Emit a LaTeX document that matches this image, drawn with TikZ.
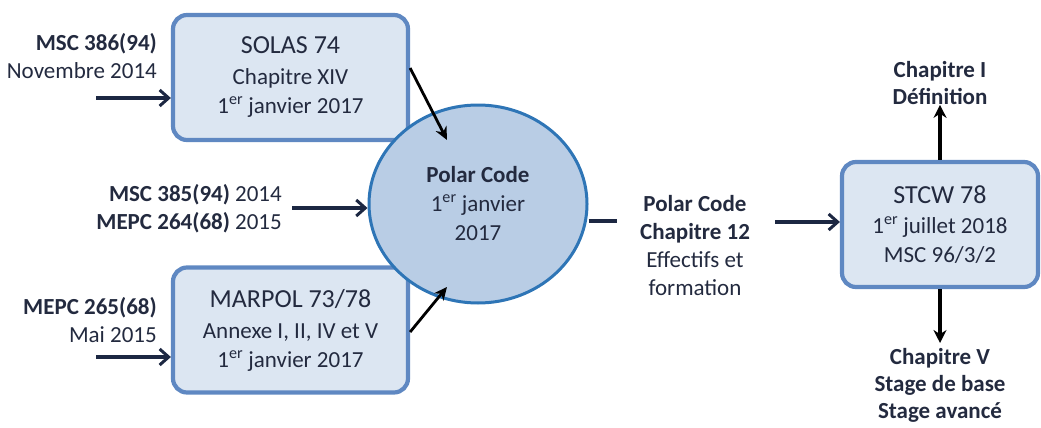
\documentclass[tikz,border=0pt]{standalone}
\usepackage{fontspec}
\setmainfont{Carlito}
\usetikzlibrary{arrows.meta,calc,shapes.geometric}
\definecolor{boxfill}{HTML}{DCE6F2}
\definecolor{boxline}{HTML}{5F88C2}
\definecolor{circfill}{HTML}{B9CDE5}
\definecolor{circline}{HTML}{2E75B6}
\definecolor{txt}{HTML}{232A3F}
\definecolor{arr}{HTML}{1C2742}
\tikzset{
  regbox/.style={draw=boxline, line width=4.2pt, fill=boxfill, rounded corners=14pt,
    align=center, text=txt, font=\fontsize{23}{29}\selectfont, inner sep=0pt},
  lbl/.style={text=txt, font=\fontsize{23}{28}\selectfont, inner sep=0pt},
  inarr/.style={draw=arr, line width=3.4pt, -{Straight Barb[length=9pt,width=16pt,line width=3pt]}},
  solidarr/.style={draw=black, line width=2.8pt, -{Stealth[length=13pt,width=12pt]}},
  vtarr/.style={draw=black, line width=3.2pt, -{Stealth[length=13pt,width=13pt]}},
}
\newcommand{\ttl}[1]{{\fontsize{26}{30}\selectfont #1}}
\begin{document}
\begin{tikzpicture}[x=1pt,y=-1pt]
\useasboundingbox (0,0) rectangle (1041,428);
% boxes
\node[regbox, minimum width=235pt, minimum height=125pt] (solas) at (290.5,77.5)
  {\ttl{SOLAS 74}\\[2pt] Chapitre XIV\\ 1\textsuperscript{er} janvier 2017};
\node[regbox, minimum width=235pt, minimum height=125pt] (marpol) at (290.5,330)
  {\ttl{MARPOL 73/78}\\[2pt] Annexe I, II, IV et V\\ 1\textsuperscript{er} janvier 2017};
\node[ellipse, draw=circline, line width=3pt, fill=circfill, minimum width=218pt,
  minimum height=198pt, inner sep=0pt, align=center, text=txt,
  font=\fontsize{23}{29}\selectfont] (circ) at (478,204)
  {\textbf{Polar Code}\\ 1\textsuperscript{er} janvier\\ 2017};
\node[regbox, minimum width=196pt, minimum height=125pt] (stcw) at (940,224.5)
  {\ttl{STCW 78}\\[1pt] 1\textsuperscript{er} juillet 2018\\ MSC 96/3/2};
% labels
\node[lbl, anchor=east, align=right] (l1) at (157,56)
  {\textbf{MSC 386(94)}\\ Novembre 2014};
\node[lbl, anchor=east, align=right] (l2) at (282,209)
  {\textbf{MSC 385(94)} 2014\\ \textbf{MEPC 264(68)} 2015};
\node[lbl, anchor=east, align=right] (l3) at (157,320)
  {\textbf{MEPC 265(68)}\\ Mai 2015};
\node[lbl, align=center] (pc) at (695,246)
  {\textbf{Polar Code}\\ \textbf{Chapitre 12}\\ Effectifs et\\ formation};
\node[lbl, align=center, font=\bfseries\fontsize{23}{27}\selectfont] (ch1) at (940,83)
  {Chapitre I\\ Définition};
\node[lbl, align=center, font=\bfseries\fontsize{23}{27}\selectfont, anchor=north] (ch5) at (940,348)
  {Chapitre V\\ Stage de base\\ Stage avancé};
% connectors
\coordinate (a1) at (96,98);
\coordinate (a2) at (292,208);
\coordinate (a3) at (96,357);
\coordinate (a4) at (775,222);
\coordinate (b1) at (617,221);
\draw[inarr] (a1) -- (a1 -| solas.west);
\draw[inarr] (a2) -- (a2 -| circ.west);
\draw[inarr] (a3) -- (a3 -| marpol.west);
\draw[inarr] (a4) -- (a4 -| stcw.west);
\draw[draw=arr, line width=3.4pt] (b1 -| circ.east) -- (b1);
\draw[solidarr] ([yshift=9.5pt]solas.east) -- ([shift={(-31pt,64pt)}]circ.center);
\draw[solidarr] ([yshift=-2pt]marpol.east) -- ([shift={(-31pt,-83pt)}]circ.center);
\draw[vtarr] (stcw.north) -- (ch1.south);
\draw[vtarr, shorten >=5pt] (stcw.south) -- (ch5.north);
\end{tikzpicture}
\end{document}
